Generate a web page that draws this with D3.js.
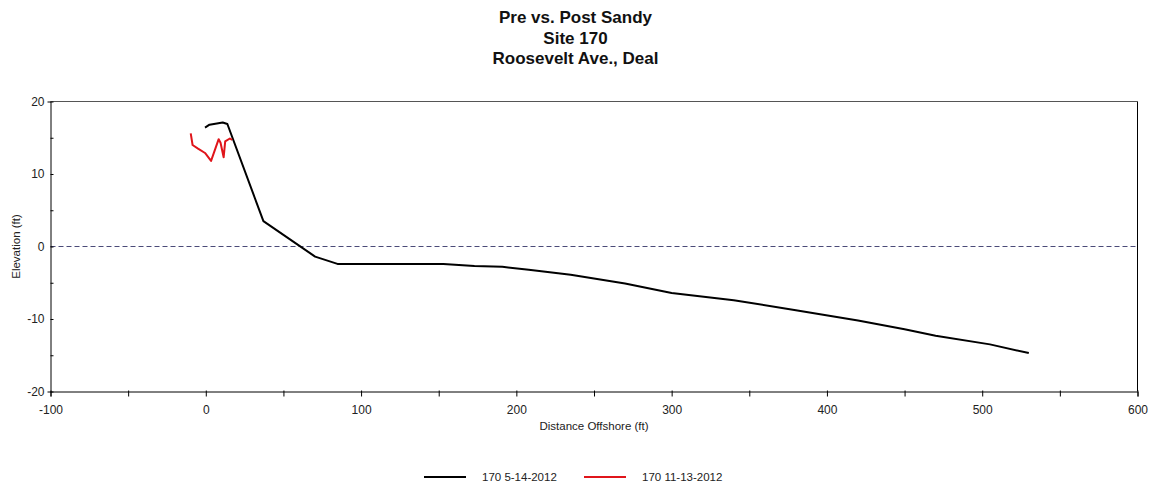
<!DOCTYPE html>
<html>
<head>
<meta charset="utf-8">
<script src="https://cdn.jsdelivr.net/npm/d3@7"></script>
<style>
  html, body { margin: 0; padding: 0; background: #fff; }
  svg { display: block; font-family: "Liberation Sans", Arial, sans-serif; }
</style>
</head>
<body>
<svg id="chart" width="1151" height="487"></svg>
<script>
// Beach profile, Site 170 (Roosevelt Ave., Deal): distance offshore (ft) vs elevation (ft)
const titleLines = ["Pre vs. Post Sandy", "Site 170", "Roosevelt Ave., Deal"];

const preSandyDist = [-0.5, 2.4, 10.9, 13.9, 37.1, 70.4, 84.8, 153, 173, 191, 208, 235, 270, 300, 340, 380, 420, 450, 470, 505, 530];
const preSandyElev = [16.4, 16.8, 17.1, 16.9, 3.5, -1.4, -2.4, -2.4, -2.7, -2.8, -3.2, -3.9, -5.1, -6.4, -7.4, -8.8, -10.2, -11.4, -12.3, -13.5, -14.7];

const postSandyDist = [-9.7, -8.5, -5, -0.5, 3.4, 8.3, 9.5, 11.5, 12.5, 15.5, 17];
const postSandyElev = [15.6, 14.0, 13.5, 12.9, 11.8, 14.8, 14.3, 12.3, 14.5, 14.9, 14.7];

const seriesNames = ["170 5-14-2012", "170 11-13-2012"];
const seriesColors = ["#000000", "#e0151b"];

const xTicks = [-100, -50, 0, 50, 100, 150, 200, 250, 300, 350, 400, 450, 500, 550, 600];
const yTicks = [-20, -15, -10, -5, 0, 5, 10, 15, 20];

const series = [
  { name: seriesNames[0], color: seriesColors[0], pts: preSandyDist.map((d, i) => [d, preSandyElev[i]]) },
  { name: seriesNames[1], color: seriesColors[1], pts: postSandyDist.map((d, i) => [d, postSandyElev[i]]) }
];

const svg = d3.select("#chart");
const plotLeft = 50.5, plotRight = 1137.5, plotTop = 101.5, plotBottom = 391.5;

const x = d3.scaleLinear().domain([-100, 600]).range([plotLeft, plotRight]);
const y = d3.scaleLinear().domain([-20, 20]).range([plotBottom, plotTop]);

// Title
svg.append("text")
  .attr("x", 575.5).attr("y", 23)
  .attr("text-anchor", "middle")
  .attr("font-weight", "bold").attr("font-size", "17px").attr("fill", "#111")
  .selectAll("tspan").data(titleLines).join("tspan")
  .attr("x", 575.5).attr("dy", (d, i) => i === 0 ? 0 : 20.6)
  .text(d => d);

// Frame (top and right edges)
svg.append("line").attr("x1", plotLeft).attr("x2", plotRight).attr("y1", plotTop).attr("y2", plotTop)
  .attr("stroke", "#555").attr("stroke-width", 1);
svg.append("line").attr("x1", plotRight).attr("x2", plotRight).attr("y1", plotTop).attr("y2", plotBottom)
  .attr("stroke", "#000").attr("stroke-width", 1);

// Zero reference line
svg.append("line").attr("x1", plotLeft).attr("x2", plotRight).attr("y1", y(0)).attr("y2", y(0))
  .attr("stroke", "#4b4b78").attr("stroke-width", 1).attr("stroke-dasharray", "5,3");

// X axis
const xAxis = svg.append("g").attr("transform", `translate(0,${plotBottom})`)
  .call(d3.axisBottom(x).tickValues(xTicks)
    .tickFormat(d => d % 100 === 0 ? d : "")
    .tickSizeOuter(0).tickSize(5).tickPadding(9));
xAxis.select(".domain").attr("stroke", "#000");
xAxis.selectAll(".tick line").attr("y1", -1).attr("stroke", "#000");
xAxis.selectAll(".tick text").attr("font-size", "12px").attr("fill", "#222")
  .attr("font-family", "'Liberation Sans', Arial, sans-serif");

// Y axis
const yAxis = svg.append("g").attr("transform", `translate(${plotLeft},0)`)
  .call(d3.axisLeft(y).tickValues(yTicks)
    .tickFormat(d => d % 10 === 0 ? d : "")
    .tickSizeOuter(0).tickSize(3).tickPadding(3));
yAxis.select(".domain").attr("stroke", "#000");
yAxis.selectAll(".tick line").attr("x2", 3).attr("stroke", "#000");
yAxis.selectAll(".tick text").attr("font-size", "12px").attr("fill", "#222")
  .attr("font-family", "'Liberation Sans', Arial, sans-serif");

// Axis titles
svg.append("text").attr("x", (plotLeft + plotRight) / 2).attr("y", 430)
  .attr("text-anchor", "middle").attr("font-size", "11.5px").attr("fill", "#222")
  .text("Distance Offshore (ft)");
svg.append("text")
  .attr("transform", `translate(20,${y(0)}) rotate(-90)`)
  .attr("text-anchor", "middle").attr("font-size", "11.5px").attr("fill", "#222")
  .text("Elevation (ft)");

// Profile lines
const line = d3.line().x(d => x(d[0])).y(d => y(d[1]));
svg.append("g").selectAll("path").data(series).join("path")
  .attr("d", d => line(d.pts))
  .attr("fill", "none")
  .attr("stroke", d => d.color)
  .attr("stroke-width", 2)
  .attr("stroke-linejoin", "round");

// Legend
const legendX = [424, 584];
const legend = svg.append("g").selectAll("g").data(series).join("g")
  .attr("transform", (d, i) => `translate(${legendX[i]},477)`);
legend.append("line").attr("x1", 0).attr("x2", 42).attr("y1", 0).attr("y2", 0)
  .attr("stroke", d => d.color).attr("stroke-width", 2);
legend.append("text").attr("x", 58).attr("y", 4)
  .attr("font-size", "11.5px").attr("fill", "#222")
  .text(d => d.name);
</script>
</body>
</html>
